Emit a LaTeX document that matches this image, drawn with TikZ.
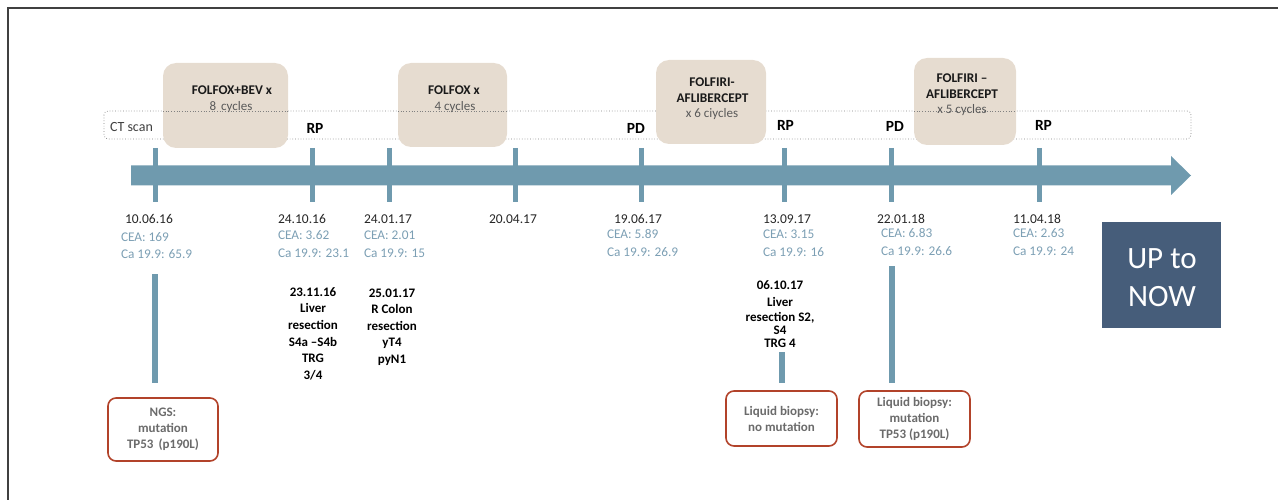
\documentclass[tikz,border=0pt]{standalone}
\usepackage{fontspec}
\setmainfont{Carlito}
\definecolor{barc}{HTML}{6F9AAE}
\definecolor{tanc}{HTML}{E6DCD0}
\definecolor{redc}{HTML}{B2432A}
\definecolor{upc}{HTML}{465D7A}
\definecolor{ceac}{HTML}{7C9FB4}
\definecolor{datec}{HTML}{262626}
\definecolor{grayt}{HTML}{6B6B6B}
\definecolor{cyct}{HTML}{595959}
\definecolor{framec}{HTML}{404040}
\begin{document}
\begin{tikzpicture}[x=1pt,y=-1pt,
  every node/.style={inner sep=0pt, outer sep=0pt},
  datelbl/.style={font=\fontsize{13.5}{16}\selectfont, text=datec, anchor=west},
  cealbl/.style={font=\fontsize{13.3}{16}\selectfont, text=ceac, anchor=west},
  evlbl/.style={font=\bfseries\fontsize{15.5}{18}\selectfont, text=black},
  tanbox/.style={fill=tanc, rounded corners=13pt},
  drugl/.style={font=\bfseries\fontsize{13.3}{16}\selectfont, text=black!90},
  cycl/.style={font=\fontsize{13}{16}\selectfont, text=cyct},
  surg/.style={font=\bfseries\fontsize{13}{16.6}\selectfont, text=black, align=center, anchor=north},
  redbox/.style={draw=redc, line width=1.6pt, fill=white, rounded corners=8pt, align=center,
    font=\bfseries\fontsize{13}{16}\selectfont, text=grayt},
  vbar/.style={draw=barc, line width=5.5pt},
  tick/.style={draw=barc, line width=5pt}
]
\useasboundingbox (0,0) rectangle (1278,500);
% frame
\draw[framec, line width=1.4pt] (8,500) -- (8,8) -- (1278,8);
% dotted CT-scan band
\draw[gray, dotted, line width=0.7pt, rounded corners=4pt] (104,111) rectangle (1191,139);
\node[anchor=west, font=\fontsize{14}{16}\selectfont, text=framec] (ct) at (110,127) {CT scan};
% treatment boxes
\node[tanbox, minimum width=125pt, minimum height=85pt] (t1) at (225.5,105.5) {};
\node[tanbox, minimum width=109pt, minimum height=84pt] (t2) at (452.5,105) {};
\node[tanbox, minimum width=110pt, minimum height=84pt] (t3) at (711,102) {};
\node[tanbox, minimum width=102pt, minimum height=87pt] (t4) at (965,101.5) {};
\draw[gray, dotted, line width=0.7pt] (163,111) -- (288,111);
\draw[gray, dotted, line width=0.7pt] (398,111) -- (507,111);
\draw[gray, dotted, line width=0.7pt] (914,111) -- (1016,111);
\node[drugl] (t1a) at (232,90) {FOLFOX+BEV x};
\node[cycl] (t1b) at (231,107) {8\, cycles};
\node[drugl] (t2a) at (454,90) {FOLFOX x};
\node[cycl] (t2b) at (455,107.5) {4 cycles};
\node[drugl] (t3a) at (712,82) {FOLFIRI-};
\node[drugl] (t3b) at (712.5,98) {AFLIBERCEPT};
\node[cycl] (t3c) at (712,114.5) {x 6 ciycles};
\node[drugl] (t4a) at (962,78) {FOLFIRI --};
\node[drugl] (t4b) at (962,94) {AFLIBERCEPT};
\node[cycl] (t4c) at (962,110) {x 5 cycles};
% events
\node[evlbl] (e1) at (315,128) {RP};
\node[evlbl] (e2) at (636,128) {PD};
\node[evlbl] (e3) at (785.5,125) {RP};
\node[evlbl] (e4) at (895,126) {PD};
\node[evlbl] (e5) at (1043.5,125) {RP};
% timeline arrow
\fill[barc] (131,165.5) -- (1171,165.5) -- (1171,156) -- (1191,175.5) -- (1171,195) -- (1171,185.5) -- (131,185.5) -- cycle;
\foreach \x in {155,312,389,515,641,784,891,1039}{
  \draw[tick] (\x,148) -- (\x,202);
}
% dates and markers
\node[datelbl] (d1) at (125,219) {10.06.16};
\node[cealbl] (c1) at (121,237) {CEA: 169};
\node[cealbl] (k1) at (121,254.5) {Ca 19.9: 65.9};
\node[datelbl] (d2) at (278,219) {24.10.16};
\node[cealbl] (c2) at (278,235) {CEA: 3.62};
\node[cealbl] (k2) at (278,253) {Ca 19.9: 23.1};
\node[datelbl] (d3) at (364,219) {24.01.17};
\node[cealbl] (c3) at (364,235) {CEA: 2.01};
\node[cealbl] (k3) at (364,253) {Ca 19.9: 15};
\node[datelbl] (d4) at (489,219) {20.04.17};
\node[datelbl] (d5) at (614,219) {19.06.17};
\node[cealbl] (c5) at (607,234) {CEA: 5.89};
\node[cealbl] (k5) at (607,252) {Ca 19.9: 26.9};
\node[datelbl] (d6) at (763,219) {13.09.17};
\node[cealbl] (c6) at (763,234) {CEA: 3.15};
\node[cealbl] (k6) at (763,252) {Ca 19.9: 16};
\node[datelbl] (d7) at (877,219) {22.01.18};
\node[cealbl] (c7) at (881,233) {CEA: 6.83};
\node[cealbl] (k7) at (881,251) {Ca 19.9: 26.6};
\node[datelbl] (d8) at (1013,219) {11.04.18};
\node[cealbl] (c8) at (1013,233) {CEA: 2.63};
\node[cealbl] (k8) at (1013,251) {Ca 19.9: 24};
% surgeries
\node[surg] (s1) at (313,287.5) {23.11.16\\Liver\\resection\\S4a --S4b\\TRG\\3/4};
\node[surg] (s2) at (392,288.5) {25.01.17\\R Colon\\resection\\yT4\\pyN1};
\node[surg, font=\bfseries\fontsize{13}{13}\selectfont] (s3) at (780,280.5) {06.10.17\\[4pt]Liver\\[2pt]resection S2,\\S4\\TRG 4};
% up to now
\node[fill=upc, minimum width=119pt, minimum height=106pt] (now) at (1161.5,275) {};
\node[text=white, align=center, font=\fontsize{31}{38}\selectfont] (nowt) at (1162,278) {UP to\\NOW};
% mutation boxes
\node[redbox, minimum width=110pt, minimum height=63pt] (m1) at (163,429.5) {NGS:\\mutation\\TP53\, (p190L)};
\node[redbox, minimum width=111pt, minimum height=55pt] (m2) at (781.5,418.5) {Liquid biopsy:\\no mutation};
\node[redbox, minimum width=111pt, minimum height=56pt] (m3) at (914.5,419) {Liquid biopsy:\\mutation\\TP53 (p190L)};
% vertical connectors
\coordinate (v1a) at (155,274); \coordinate (v1b) at (155,383);
\coordinate (v2a) at (782,352); \coordinate (v2b) at (782,383);
\coordinate (v3a) at (892,266); \coordinate (v3b) at (892,383);
\draw[vbar] (v1a) -- (v1b);
\draw[vbar] (v2a) -- (v2b);
\draw[vbar] (v3a) -- (v3b);
\end{tikzpicture}
\end{document}
